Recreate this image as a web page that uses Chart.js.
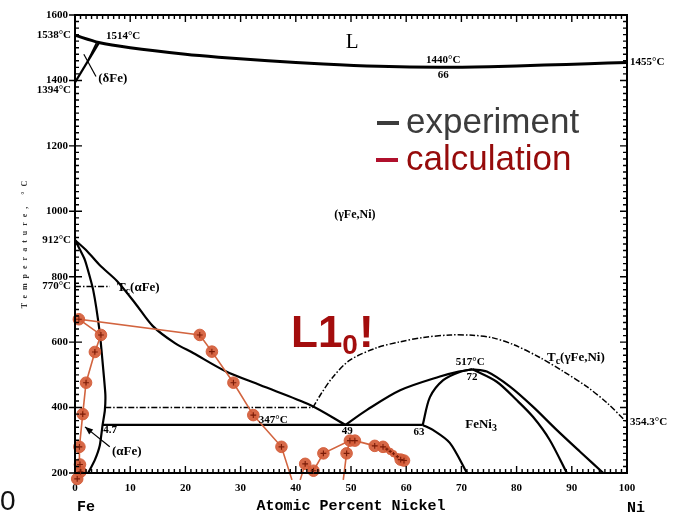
<!DOCTYPE html>
<html>
<head>
<meta charset="utf-8">
<script src="https://cdn.jsdelivr.net/npm/chart.js@4.4.1/dist/chart.umd.min.js"></script>
<style>
  html, body { margin: 0; padding: 0; background: #fff; }
  canvas { display: block; }
</style>
</head>
<body>
<canvas id="c" width="675" height="516"></canvas>
<script>
// ---- Fe–Ni phase diagram: experimental boundaries [at.% Ni, °C] ----
const liquidus = [[0,1538],[4.3,1516],[10,1500],[20,1480],[26,1471],[35,1460],[45,1450],[55,1443],[66,1440],[75,1442],[85,1447],[93,1451],[100,1455]];
const deltaBoundaryA = [[0,1394],[4.3,1514]];
const deltaBoundaryB = [[2.4,1462],[3.9,1514]];
const deltaLeader = [[1.6,1480],[3.8,1412]];
const gammaBoundary = [[0,912],[2.2,878],[4.5,835],[7.6,787],[10.9,719],[14.1,649],[18.1,597],[21.4,567],[27.2,512],[33.5,469],[42.6,408],[49,347]];
const alphaBoundary = [[0,912],[1.8,851],[3.3,759],[4.5,627],[5.1,520],[5.5,440],[5.4,390],[5.0,347],[4.5,285],[3.6,240],[2.4,200]];
const curieAlpha = [[0,770],[6.3,770]];
const magnetic400 = [[5.5,400],[43.1,400]];
const curieGamma = [[43.1,400],[44.5,440],[46.7,493],[49.8,545],[54.7,583],[58.9,601],[63,614],[68,622],[72,621],[75.5,614],[79.5,592],[84.2,553],[88.5,510],[92.8,463],[96.4,414],[100,354.3]];
const eutectoid = [[5.0,347],[63,347]];
const feni3LeftOuter = [[49,347],[52.9,393],[58.9,453],[66.1,495],[69.5,510],[72,517]];
const feni3LeftInner = [[63,347],[64.3,432],[66.7,484],[69.7,509],[72,517]];
const feni3RightOuter = [[72,517],[74.6,510],[78.8,464],[83,402],[87.3,331],[91.5,265],[95.7,200]];
const feni3RightInner = [[72,517],[76.4,479],[80,423],[83,371],[86,301],[89.1,200]];
const feni3Lower = [[63,347],[64.9,331],[67.9,292],[71,200]];
const alphaArrow = [[6.3,280],[1.8,341]];

// ---- calculated boundaries ----
const calcA = [[0.4,182],[1.0,204],[0.9,226],[0.8,280],[1.4,380],[2.0,476],[3.6,570],[4.7,622],[0.7,670],[22.6,622],[24.8,571],[28.7,476],[32.3,377],[37.4,280],[39.3,179]];
const calcB = [[40.8,179],[41.7,228],[43.2,207],[45,260],[49.8,299],[50.7,299],[54.3,283],[55.8,280],[56.5,273],[57.1,266],[57.7,259],[58.4,250],[59,241],[59.6,238]];
const calcC = [[48.6,179],[49.2,260],[49.8,299]];

// ---- axis ticks ----
const xTickValues = [0,10,20,30,40,50,60,70,80,90,100];
const yTickValues = [200,400,600,800,1000,1200,1400,1600];
const specialTemps = [1538,1394,912,770];
const specialLabels = ['1538°C','1394°C','912°C','770°C'];
const rightTemps = [1455,354.3];
const rightLabels = ['1455°C','354.3°C'];

// markers left open (line ends) and small markers, by point index
const calcAOpen = [14];
const calcBOpen = [0];
const calcBSmall = [8,9,10,11];
const calcCOpen = [0,2];

const pts = arr => arr.map(([x, y]) => ({ x, y }));

const RED_LINE = '#d2643f';
const RED_FILL = 'rgba(212,92,56,0.92)';
const SERIF_B = 'bold 11px "Liberation Serif"';
const TICK_FONT = { family: 'Liberation Serif', weight: 'bold', size: 11 };

function blackLine(data, extra) {
  return Object.assign({ data: pts(data), showLine: true, borderColor: '#000', borderWidth: 2.2,
    pointRadius: 0, tension: 0.3, fill: false }, extra || {});
}
function dashDot(data) {
  return blackLine(data, { borderWidth: 1.5, borderDash: [6, 2, 1.5, 2], tension: 0.3 });
}
function calcLine(data, open, small) {
  return { data: pts(data), showLine: true, borderColor: RED_LINE, borderWidth: 1.6, tension: 0,
    pointRadius: c => open.includes(c.dataIndex) ? 0 : (small && small.includes(c.dataIndex) ? 3.2 : 5.8),
    pointBackgroundColor: RED_FILL, pointBorderColor: RED_FILL, pointBorderWidth: 1,
    clip: false, calc: true };
}

// "+" inside each calculated marker
const crossPlugin = {
  id: 'crosses',
  afterDatasetsDraw(chart) {
    const ctx = chart.ctx;
    chart.data.datasets.forEach((ds, i) => {
      if (!ds.calc) return;
      chart.getDatasetMeta(i).data.forEach(p => {
        const r = p.options.radius;
        if (r < 1) return;
        const s = r * 0.5;
        ctx.save();
        ctx.strokeStyle = '#7a1c08';
        ctx.lineWidth = 1.1;
        ctx.beginPath();
        ctx.moveTo(p.x - s, p.y); ctx.lineTo(p.x + s, p.y);
        ctx.moveTo(p.x, p.y - s); ctx.lineTo(p.x, p.y + s);
        ctx.stroke();
        ctx.restore();
      });
    });
  }
};

// frame with minor / major tick marks
const framePlugin = {
  id: 'frame',
  afterDatasetsDraw(chart) {
    const ctx = chart.ctx;
    const a = chart.chartArea;
    const sx = chart.scales.x, sy = chart.scales.y;
    ctx.save();
    ctx.strokeStyle = '#000';
    ctx.lineWidth = 1.4;
    ctx.beginPath();
    for (let v = 0; v <= 100; v++) {
      const px = sx.getPixelForValue(v);
      const L = v % 10 === 0 ? 7 : 4;
      ctx.moveTo(px, a.top); ctx.lineTo(px, a.top + L);
      ctx.moveTo(px, a.bottom); ctx.lineTo(px, a.bottom - L);
    }
    for (let t = 200; t <= 1600; t += 20) {
      const py = sy.getPixelForValue(t);
      const L = t % 200 === 0 ? 7 : 4;
      ctx.moveTo(a.left, py); ctx.lineTo(a.left + L, py);
      ctx.moveTo(a.right, py); ctx.lineTo(a.right - L, py);
    }
    yTickValues.forEach(t => {
      const py = sy.getPixelForValue(t);
      ctx.moveTo(a.left - 6, py); ctx.lineTo(a.left, py);
    });
    ctx.stroke();
    ctx.lineWidth = 2;
    ctx.strokeRect(a.left, a.top, a.right - a.left, a.bottom - a.top);
    ctx.restore();
  }
};

function drawRich(ctx, parts, x, y, font, subFont, align) {
  ctx.save();
  ctx.textBaseline = 'middle';
  ctx.textAlign = 'left';
  let w = 0;
  parts.forEach(([t, sub]) => { ctx.font = sub ? subFont : font; w += ctx.measureText(t).width; });
  let cx = align === 'center' ? x - w / 2 : (align === 'right' ? x - w : x);
  parts.forEach(([t, sub]) => {
    ctx.font = sub ? subFont : font;
    ctx.fillText(t, cx, sub ? y + 4 : y);
    cx += ctx.measureText(t).width;
  });
  ctx.restore();
}

const labelPlugin = {
  id: 'labels',
  afterDraw(chart) {
    const ctx = chart.ctx;
    const a = chart.chartArea;
    const x = chart.scales.x, y = chart.scales.y;
    const PH = 'bold 13px "Liberation Serif"';
    const PHS = 'bold 10px "Liberation Serif"';
    const notes = [
      { x: 5.6, T: 1535, t: [['1514°C']], al: 'left' },
      { x: 50.2, T: 1517, t: [['L']], al: 'center', f: '21px "Liberation Serif"' },
      { x: 66.7, T: 1462, t: [['1440°C']], al: 'center' },
      { x: 66.7, T: 1416, t: [['66']], al: 'center' },
      { x: 4.2, T: 1404, t: [['(δFe)']], al: 'left', f: PH },
      { x: 50.7, T: 988, t: [['(γFe,Ni)']], al: 'center', f: 'bold 12px "Liberation Serif"' },
      { x: 7.6, T: 768, t: [['T'], ['c', 1], ['(αFe)']], al: 'left', f: PH },
      { x: 85.5, T: 554, t: [['T'], ['c', 1], ['(γFe,Ni)']], al: 'left', f: PH },
      { x: 71.6, T: 539, t: [['517°C']], al: 'center' },
      { x: 71.9, T: 493, t: [['72']], al: 'center' },
      { x: 70.7, T: 347, t: [['FeNi'], ['3', 1]], al: 'left', f: PH },
      { x: 35.9, T: 362, t: [['347°C']], al: 'center' },
      { x: 49.3, T: 328, t: [['49']], al: 'center' },
      { x: 62.3, T: 325, t: [['63']], al: 'center' },
      { x: 5.1, T: 331, t: [['4.7']], al: 'left' },
      { x: 6.7, T: 264, t: [['(αFe)']], al: 'left', f: PH }
    ];
    ctx.fillStyle = '#000';
    notes.forEach(n => drawRich(ctx, n.t, x.getPixelForValue(n.x), y.getPixelForValue(n.T),
      n.f || SERIF_B, PHS, n.al));

    // special temperatures on the left axis
    ctx.save();
    ctx.font = SERIF_B;
    ctx.textAlign = 'right';
    ctx.textBaseline = 'middle';
    const dy = { 1394: 8 };
    specialTemps.forEach((t, i) => ctx.fillText(specialLabels[i], a.left - 4, y.getPixelForValue(t) + (dy[t] || 0)));
    ctx.restore();

    // arrowhead for the (αFe) leader
    const [p0, p1] = alphaArrow;
    const x0 = x.getPixelForValue(p0[0]), y0 = y.getPixelForValue(p0[1]);
    const x1 = x.getPixelForValue(p1[0]), y1 = y.getPixelForValue(p1[1]);
    const ang = Math.atan2(y1 - y0, x1 - x0);
    ctx.save();
    ctx.translate(x1, y1); ctx.rotate(ang);
    ctx.beginPath(); ctx.moveTo(0, 0); ctx.lineTo(-8, -3.2); ctx.lineTo(-8, 3.2); ctx.closePath();
    ctx.fillStyle = '#000'; ctx.fill();
    ctx.restore();

    // axis-foot captions
    ctx.save();
    ctx.font = 'bold 15px "Liberation Mono"';
    ctx.textBaseline = 'middle';
    ctx.fillStyle = '#000';
    ctx.textAlign = 'left';
    ctx.fillText('Fe', x.getPixelForValue(0) + 2, 507);
    ctx.fillText('Ni', x.getPixelForValue(100), 508);
    ctx.textAlign = 'center';
    ctx.fillText('Atomic Percent Nickel', (a.left + a.right) / 2, 506);
    ctx.restore();

    // rotated temperature caption
    ctx.save();
    ctx.translate(25, 242);
    ctx.rotate(-Math.PI / 2);
    ctx.font = 'bold 8px "Liberation Serif"';
    ctx.letterSpacing = '5px';
    ctx.textAlign = 'center';
    ctx.textBaseline = 'middle';
    ctx.fillStyle = '#333';
    ctx.fillText('Temperature, °C', 0, 0);
    ctx.restore();

    // stray slide numeral
    ctx.save();
    ctx.font = '28px "Liberation Sans"';
    ctx.fillStyle = '#111';
    ctx.textBaseline = 'alphabetic';
    ctx.fillText('0', 0, 510);
    ctx.restore();

    // legend
    ctx.save();
    ctx.font = '35px "Liberation Sans"';
    ctx.textBaseline = 'alphabetic';
    ctx.fillStyle = '#3c3c3c';
    ctx.fillRect(377, 121, 22, 4);
    ctx.fillText('experiment', 406, 133);
    ctx.fillStyle = '#b0102c';
    ctx.fillRect(376, 158, 22, 4);
    ctx.fillStyle = '#960b0b';
    ctx.fillText('calculation', 406, 170);
    ctx.restore();

    // L1₀! callout
    ctx.save();
    ctx.fillStyle = '#a30d0d';
    ctx.textBaseline = 'alphabetic';
    ctx.font = 'bold 44px "Liberation Sans"';
    ctx.fillText('L1', 291, 347);
    let cx = 291 + ctx.measureText('L1').width;
    ctx.font = 'bold 28px "Liberation Sans"';
    ctx.fillText('0', cx, 354);
    cx += ctx.measureText('0').width + 1;
    ctx.font = 'bold 44px "Liberation Sans"';
    ctx.fillText('!', cx, 347);
    ctx.restore();
  }
};

new Chart(document.getElementById('c'), {
  type: 'scatter',
  data: {
    datasets: [
      calcLine(calcA, calcAOpen),
      calcLine(calcB, calcBOpen, calcBSmall),
      calcLine(calcC, calcCOpen),
      blackLine(liquidus, { borderWidth: 3, tension: 0.25 }),
      blackLine(deltaBoundaryA, { tension: 0 }),
      blackLine(deltaBoundaryB, { tension: 0, borderWidth: 1.8 }),
      blackLine(deltaLeader, { tension: 0, borderWidth: 1.2 }),
      blackLine(gammaBoundary),
      blackLine(alphaBoundary, { tension: 0.15 }),
      dashDot(curieAlpha),
      dashDot(magnetic400),
      dashDot(curieGamma),
      blackLine(eutectoid, { tension: 0 }),
      blackLine(feni3LeftOuter),
      blackLine(feni3LeftInner),
      blackLine(feni3RightOuter),
      blackLine(feni3RightInner),
      blackLine(feni3Lower),
      blackLine(alphaArrow, { tension: 0, borderWidth: 1.2 })
    ]
  },
  options: {
    responsive: false,
    animation: false,
    events: [],
    devicePixelRatio: 1,
    layout: { autoPadding: false, padding: { top: 15, left: 0, right: 0, bottom: 0 } },
    plugins: { legend: { display: false }, tooltip: { enabled: false } },
    scales: {
      x: {
        type: 'linear', position: 'bottom', min: 0, max: 100,
        afterFit: s => { s.height = 43; },
        afterBuildTicks: s => { s.ticks = xTickValues.map(v => ({ value: v })); },
        grid: { display: false, drawTicks: false }, border: { display: false },
        ticks: { font: TICK_FONT, color: '#000', padding: 9, maxRotation: 0, autoSkip: false,
          callback: v => String(v) }
      },
      y: {
        type: 'linear', position: 'left', min: 200, max: 1600,
        afterFit: s => { s.width = 75; },
        afterBuildTicks: s => { s.ticks = yTickValues.map(v => ({ value: v })); },
        grid: { display: false, drawTicks: false }, border: { display: false },
        ticks: { font: TICK_FONT, color: '#000', padding: 7, autoSkip: false,
          callback: v => String(v) }
      },
      yR: {
        type: 'linear', position: 'right', min: 200, max: 1600,
        afterFit: s => { s.width = 48; },
        afterBuildTicks: s => { s.ticks = rightTemps.map(v => ({ value: v })); },
        grid: { display: false, drawTicks: false }, border: { display: false },
        ticks: { font: TICK_FONT, color: '#000', padding: 3, autoSkip: false,
          callback: v => rightLabels[rightTemps.indexOf(v)] }
      }
    }
  },
  plugins: [framePlugin, crossPlugin, labelPlugin]
});
</script>
</body>
</html>
